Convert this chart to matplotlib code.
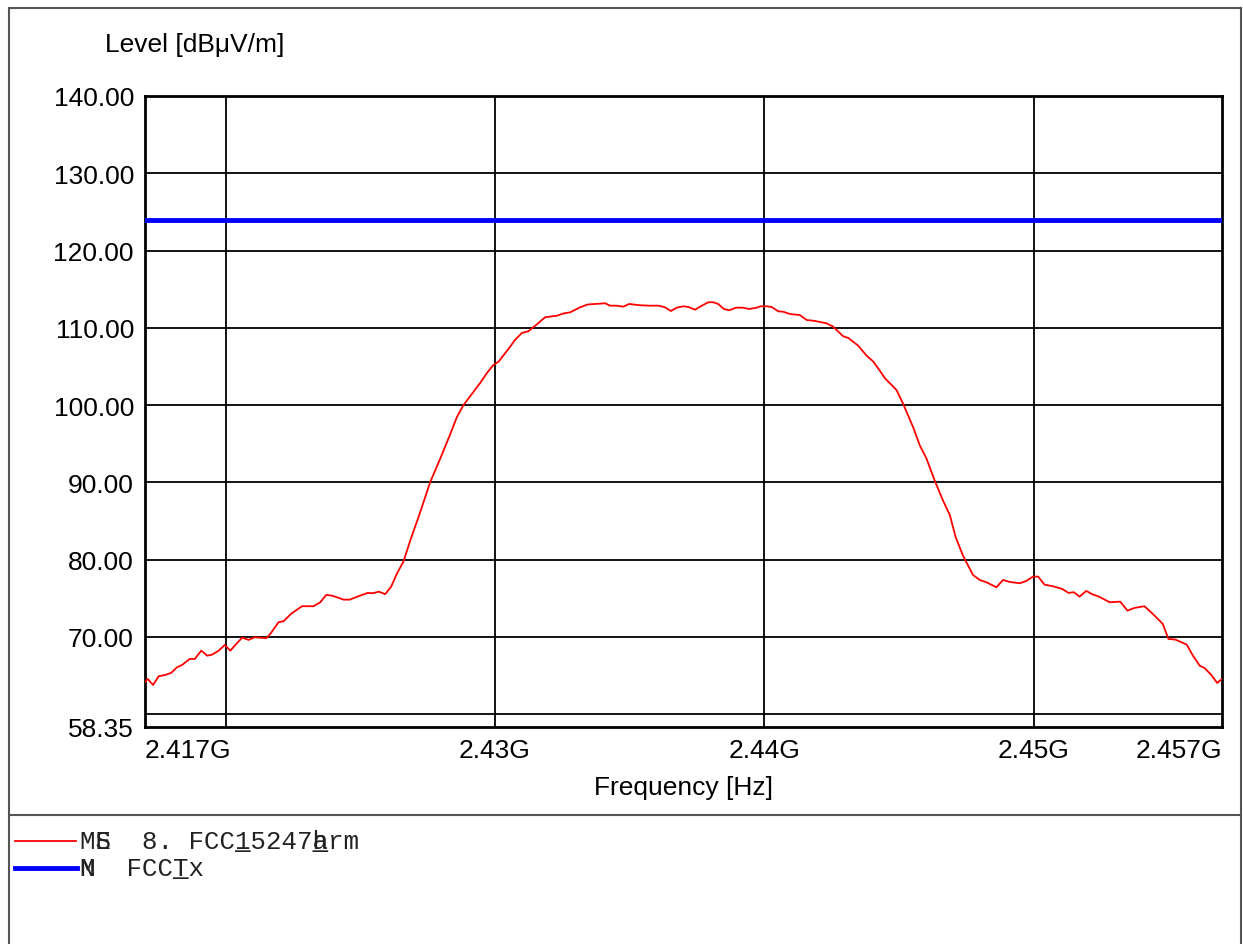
import numpy as np
import matplotlib.pyplot as plt
from matplotlib.lines import Line2D

# Measured emission trace (frequency in MHz, level in dBuV/m)
freq_mhz = [
    2417.00, 2417.10, 2417.30, 2417.51, 2417.76, 2417.97, 2418.19, 2418.38, 2418.66, 2418.85,
    2419.09, 2419.31, 2419.49, 2419.74, 2419.96, 2420.17, 2420.38, 2420.61, 2420.85, 2421.07,
    2421.51, 2421.68, 2421.96, 2422.15, 2422.42, 2422.83, 2423.26, 2423.51, 2423.73, 2423.95,
    2424.38, 2424.60, 2424.93, 2425.27, 2425.45, 2425.69, 2425.92, 2426.14, 2426.36, 2426.60,
    2426.85, 2427.22, 2427.59, 2427.96, 2428.34, 2428.58, 2428.83, 2429.14, 2429.45, 2429.70,
    2429.94, 2430.13, 2430.50, 2430.75, 2431.00, 2431.24, 2431.55, 2431.86, 2432.30, 2432.54,
    2432.79, 2433.16, 2433.44, 2433.78, 2434.09, 2434.27, 2434.52, 2434.76, 2434.98, 2435.39,
    2435.76, 2436.07, 2436.31, 2436.53, 2436.75, 2436.99, 2437.18, 2437.43, 2437.68, 2437.92,
    2438.11, 2438.29, 2438.50, 2438.70, 2438.95, 2439.20, 2439.44, 2439.72, 2439.86, 2440.09,
    2440.27, 2440.52, 2440.70, 2440.95, 2441.32, 2441.57, 2441.88, 2442.31, 2442.56, 2442.93,
    2443.12, 2443.49, 2443.80, 2444.04, 2444.29, 2444.48, 2444.73, 2444.91, 2445.16, 2445.53,
    2445.78, 2446.02, 2446.33, 2446.64, 2446.89, 2447.11, 2447.38, 2447.75, 2448.00, 2448.25,
    2448.62, 2448.87, 2449.11, 2449.49, 2449.73, 2449.98, 2450.17, 2450.41, 2450.72, 2451.07,
    2451.30, 2451.50, 2451.71, 2451.96, 2452.18, 2452.43, 2452.83, 2453.22, 2453.49, 2453.75,
    2454.12, 2454.43, 2454.80, 2455.01, 2455.27, 2455.69, 2455.92, 2456.17, 2456.35, 2456.60,
    2456.82, 2457.00,
]
level = [
    64.14, 64.57, 63.79, 64.92, 65.09, 65.35, 66.08, 66.38, 67.16, 67.16,
    68.23, 67.58, 67.71, 68.23, 68.97, 68.23, 69.06, 69.91, 69.62, 69.96,
    69.84, 70.52, 71.91, 72.04, 72.98, 73.98, 73.98, 74.49, 75.44, 75.35,
    74.83, 74.83, 75.27, 75.70, 75.66, 75.86, 75.54, 76.50, 78.22, 79.77,
    82.46, 86.14, 90.02, 93.03, 96.27, 98.43, 100.02, 101.44, 102.87, 104.16,
    105.20, 105.62, 107.27, 108.47, 109.34, 109.56, 110.44, 111.37, 111.57, 111.86,
    112.01, 112.66, 113.02, 113.11, 113.18, 112.87, 112.87, 112.74, 113.09, 112.92,
    112.87, 112.87, 112.66, 112.18, 112.61, 112.79, 112.70, 112.35, 112.87, 113.31,
    113.31, 113.09, 112.44, 112.27, 112.61, 112.61, 112.44, 112.61, 112.79, 112.79,
    112.70, 112.14, 112.09, 111.79, 111.66, 111.02, 110.89, 110.59, 110.15, 108.91,
    108.69, 107.69, 106.40, 105.67, 104.46, 103.48, 102.61, 101.96, 100.15, 97.13,
    94.75, 93.12, 90.23, 87.64, 85.79, 82.90, 80.52, 78.03, 77.38, 77.08,
    76.43, 77.38, 77.12, 76.95, 77.25, 77.81, 77.81, 76.77, 76.56, 76.21,
    75.70, 75.79, 75.22, 75.96, 75.53, 75.22, 74.49, 74.57, 73.41, 73.76,
    73.98, 72.98, 71.69, 69.75, 69.66, 69.01, 67.58, 66.29, 65.99, 65.09,
    64.05, 64.57,
]
limit_level = 124.0

x_edges = [2.417, 2.457]
x_labels = ["2.417G", "2.43G", "2.44G", "2.45G", "2.457G"]
x_label_pos = [2.417, 2.43, 2.44, 2.45, 2.457]
x_grid = [2.42, 2.43, 2.44, 2.45]
y_min, y_max = 58.35, 140.0
y_label_pos = [58.35, 70, 80, 90, 100, 110, 120, 130, 140]
y_labels = ["58.35", "70.00", "80.00", "90.00", "100.00", "110.00", "120.00", "130.00", "140.00"]
y_grid = [60, 70, 80, 90, 100, 110, 120, 130]

plt.rcParams['font.family'] = ['Liberation Sans', 'DejaVu Sans']

W, H = 1243, 945
fig = plt.figure(figsize=(W / 100, H / 100), dpi=100)
ax = fig.add_axes([145 / W, 1 - 728 / H, (1222 - 145) / W, (728 - 97) / H])

# grid lines
for gx in x_grid:
    ax.axvline(gx, color="black", lw=1.3, zorder=1)
for gy in y_grid:
    ax.axhline(gy, color="black", lw=1.3, zorder=1)

f_ghz = np.array(freq_mhz) / 1000.0
ax.plot(f_ghz, level, color="#ff0000", lw=1.3, zorder=3)
ax.axhline(limit_level, color="#0000ff", lw=3.5, zorder=3)

ax.set_xlim(*x_edges)
ax.set_ylim(y_min, y_max)

ax.set_xticks(x_label_pos)
ax.set_xticklabels(x_labels)
ax.set_yticks(y_label_pos)
ax.set_yticklabels(y_labels)
ax.tick_params(which="both", length=0)
ax.tick_params(axis="x", labelsize=19, pad=8)
ax.tick_params(axis="y", labelsize=19, pad=8)
xl = ax.get_xticklabels()
xl[0].set_horizontalalignment("left")
xl[-1].set_horizontalalignment("right")

for s in ax.spines.values():
    s.set_color("black")
    s.set_linewidth(2)

ax.set_xlabel("Frequency [Hz]", fontsize=19, labelpad=9)
fig.text(105 / W, 1 - 45 / H, "Level [dBμV/m]", fontsize=19, ha="left", va="center")

# outer frame and legend panel separator
frame_c = "#555555"
def fig_line(x0, y0, x1, y1, **kw):
    fig.add_artist(Line2D([x0 / W, x1 / W], [1 - y0 / H, 1 - y1 / H],
                          transform=fig.transFigure, **kw))

fig_line(9, 9, 1241, 9, color=frame_c, lw=1.5)
fig_line(9, 9, 9, 945, color=frame_c, lw=1.5)
fig_line(1241, 9, 1241, 945, color=frame_c, lw=1.5)
fig_line(9, 816, 1241, 816, color=frame_c, lw=1.5)

# legend entries
fig_line(15, 842, 76, 842, color="#ff0000", lw=1.3)
fig_line(15, 869, 77, 869, color="#0000ff", lw=3.5)

mono = dict(family="Liberation Mono", fontsize=18.5, color="#222222",
            ha="left", va="baseline")
tx = 80 / W
fig.text(tx, 1 - 849 / H, "ME  8. FCC15247hrm", **mono)
fig.text(tx, 1 - 849 / H, " S             a", **mono)
fig.text(tx, 1 - 849 / H, "          _    _", **mono)
fig.text(tx, 1 - 876 / H, "M  FCCTx", **mono)
fig.text(tx, 1 - 876 / H, "N", **mono)
fig.text(tx, 1 - 876 / H, "      _", **mono)

fig.savefig("out.png", dpi=100)
